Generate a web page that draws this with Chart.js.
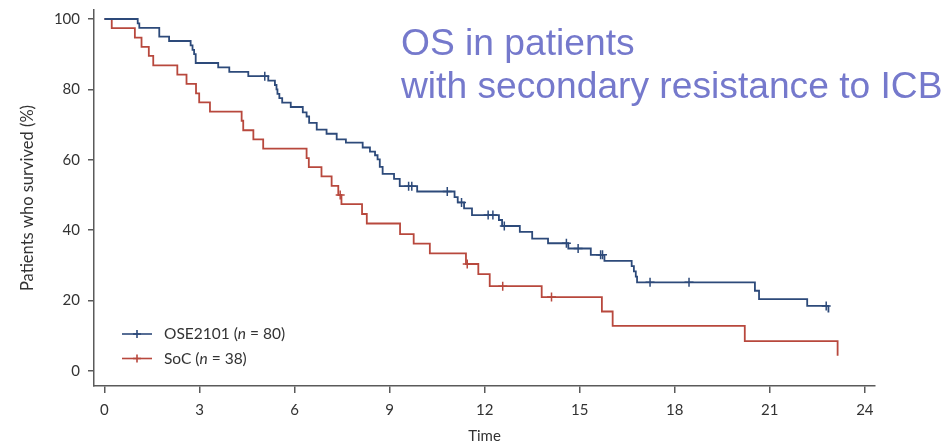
<!DOCTYPE html>
<html>
<head>
<meta charset="utf-8">
<script src="https://cdn.jsdelivr.net/npm/chart.js@4.4.1/dist/chart.umd.min.js"></script>
<style>
  html, body { margin: 0; padding: 0; background: #fff; }
  #wrap { width: 945px; height: 446px; }
</style>
</head>
<body>
<div id="wrap"><canvas id="osChart" width="945" height="446"></canvas></div>
<script>
// OSE2101 arm: time of each drop (months) and survival (%) after it
const oseTimes = [0, 1.05, 1.10, 1.73, 2.04, 2.72, 2.78, 2.83, 2.88, 3.59, 3.94, 4.54,
  5.17, 5.38, 5.43, 5.46, 5.52, 5.61, 5.88, 6.26, 6.38, 6.46, 6.70, 7.01, 7.33, 7.62,
  8.15, 8.38, 8.54, 8.62, 8.69, 8.78, 9.14, 9.32, 9.87, 11.05, 11.15, 11.35, 11.60,
  12.45, 12.55, 13.11, 13.50, 14.00, 14.64, 15.35, 15.78, 16.64, 16.71, 16.77, 16.81,
  20.53, 20.66, 22.18, 22.85];
const oseSurvival = [100, 98.75, 97.5, 95.0, 93.75, 92.5, 91.25, 90.0, 87.5, 86.25, 85.0, 83.75,
  82.5, 81.25, 80.0, 78.75, 77.5, 76.25, 75.0, 73.5, 72.3, 70.5, 68.6, 67.4, 65.8, 64.9,
  63.5, 62.3, 61.3, 60.1, 58.0, 56.0, 54.6, 52.5, 51.0, 49.4, 47.9, 46.2, 44.3,
  42.9, 41.2, 39.5, 37.6, 36.3, 34.8, 33.0, 31.3, 29.8, 28.3, 26.8, 25.2,
  22.8, 20.4, 18.5, 16.6];
const oseCensored = [5.06, 9.60, 9.70, 10.82, 11.27, 12.11, 12.26, 12.62, 14.58, 14.95,
  15.66, 15.72, 17.22, 18.45, 22.78];

// SoC arm
const socTimes = [0, 0.23, 0.96, 1.17, 1.40, 1.54, 2.30, 2.59, 2.89, 2.99, 3.33, 4.33, 4.38,
  4.70, 5.01, 6.38, 6.45, 6.85, 7.17, 7.38, 7.48, 8.13, 8.28, 9.33, 9.76, 10.27, 11.41,
  11.80, 12.16, 13.80, 15.70, 16.04, 20.21, 23.14];
const socSurvival = [100, 97.4, 94.7, 92.1, 89.5, 86.8, 84.2, 81.6, 78.9, 76.3, 73.7, 71.1, 68.4,
  65.8, 63.2, 60.5, 57.9, 55.3, 52.6, 50.0, 47.4, 44.6, 41.9, 38.9, 36.2, 33.4, 30.4,
  27.5, 24.1, 21.0, 16.9, 12.8, 8.5, 4.3];
const socCensored = [7.44, 11.45, 12.57, 14.11];

const armNames = ['OSE2101', 'SoC'];
const armSizes = [80, 38];
const xTicks = [0, 3, 6, 9, 12, 15, 18, 21, 24];
const yTicks = [0, 20, 40, 60, 80, 100];
const titleLines = ['OS in patients', 'with secondary resistance to ICB'];

const BLUE = '#2d4a7a';
const RED = '#b8483d';
const AXIS = '#5a5a5a';
const TEXT = '#333333';
const FONT = 'Lato';

const toPoints = (ts, vs) => ts.map((t, i) => ({ x: t, y: vs[i] }));

// survival level of the step curve at time t (for placing censor ticks)
const levelAt = (ts, vs, t) => {
  let v = vs[0];
  for (let i = 0; i < ts.length; i++) if (ts[i] <= t) v = vs[i];
  return v;
};
const censorPoints = (cs, ts, vs) => cs.map(t => ({ x: t, y: levelAt(ts, vs, t) }));

const drawCross = (ctx, x, y, r) => {
  ctx.beginPath();
  ctx.moveTo(x - r, y); ctx.lineTo(x + r, y);
  ctx.moveTo(x, y - r); ctx.lineTo(x, y + r);
  ctx.stroke();
};

// keep the plot box fixed: no extra room for the end labels
const noPadding = (scale) => {
  scale.paddingTop = 0;
  scale.paddingBottom = 0;
  scale.paddingLeft = 0;
  scale.paddingRight = 0;
};

// legend inside the plot, lower left
const kmLegend = {
  id: 'kmLegend',
  afterDraw(chart) {
    const ctx = chart.ctx;
    const colors = [BLUE, RED];
    ctx.save();
    armNames.forEach((name, i) => {
      const y = 334 + i * 24.5;
      ctx.strokeStyle = colors[i];
      ctx.lineWidth = 1.6;
      ctx.beginPath();
      ctx.moveTo(122, y); ctx.lineTo(152, y);
      ctx.stroke();
      drawCross(ctx, 137, y, 4);

      ctx.fillStyle = TEXT;
      ctx.textBaseline = 'middle';
      ctx.textAlign = 'left';
      let x = 164;
      const parts = [[name + ' (', 'normal'], ['n', 'italic'], [' = ' + armSizes[i] + ')', 'normal']];
      parts.forEach(([s, style]) => {
        ctx.font = `${style} 15.5px ${FONT}`;
        ctx.fillText(s, x, y);
        x += ctx.measureText(s).width;
      });
    });
    ctx.restore();
  }
};

// large heading at the top right
const heading = {
  id: 'heading',
  afterDraw(chart) {
    const ctx = chart.ctx;
    ctx.save();
    ctx.fillStyle = 'rgb(117,121,204)';
    ctx.font = '37.2px "Liberation Sans", Arial, sans-serif';
    ctx.textAlign = 'left';
    ctx.textBaseline = 'alphabetic';
    titleLines.forEach((line, i) => ctx.fillText(line, 401, 55 + i * 43));
    ctx.restore();
  }
};

new Chart(document.getElementById('osChart').getContext('2d'), {
  type: 'line',
  data: {
    datasets: [
      {
        label: armNames[0],
        data: toPoints(oseTimes, oseSurvival),
        stepped: 'before',
        borderColor: BLUE,
        borderWidth: 1.8,
        pointRadius: 0,
        fill: false,
      },
      {
        label: armNames[1],
        data: toPoints(socTimes, socSurvival),
        stepped: 'before',
        borderColor: RED,
        borderWidth: 1.8,
        pointRadius: 0,
        fill: false,
      },
      {
        type: 'scatter',
        data: censorPoints(oseCensored, oseTimes, oseSurvival),
        showLine: false,
        pointStyle: 'cross',
        pointRadius: 4.5,
        borderColor: BLUE,
        borderWidth: 1.5,
      },
      {
        type: 'scatter',
        data: censorPoints(socCensored, socTimes, socSurvival),
        showLine: false,
        pointStyle: 'cross',
        pointRadius: 4.5,
        borderColor: RED,
        borderWidth: 1.5,
      },
    ],
  },
  options: {
    responsive: false,
    animation: false,
    layout: { padding: { left: 0, right: 70, top: 10, bottom: 0 } },
    plugins: {
      legend: { display: false },
      tooltip: { enabled: false },
    },
    scales: {
      x: {
        type: 'linear',
        min: -0.33,
        max: 24.32,
        afterBuildTicks: (scale) => { scale.ticks = xTicks.map(v => ({ value: v })); },
        afterFit: (scale) => { scale.height = 60; noPadding(scale); },
        grid: { drawOnChartArea: false, drawTicks: true, tickLength: 7, color: AXIS, lineWidth: 1.5 },
        border: { color: AXIS, width: 1.5 },
        ticks: { color: TEXT, font: { family: FONT, size: 15 }, padding: 8, maxRotation: 0, autoSkip: false },
        title: { display: true, text: 'Time', color: TEXT, font: { family: FONT, size: 15 }, padding: { top: 0, bottom: 1 } },
      },
      y: {
        min: -4.26,
        max: 102.56,
        afterBuildTicks: (scale) => { scale.ticks = yTicks.map(v => ({ value: v })); },
        afterFit: (scale) => { scale.width = 94; noPadding(scale); },
        grid: { drawOnChartArea: false, drawTicks: true, tickLength: 6, color: AXIS, lineWidth: 1.5 },
        border: { color: AXIS, width: 1.5 },
        ticks: { color: TEXT, font: { family: FONT, size: 15 }, padding: 8, autoSkip: false },
        title: { display: true, text: 'Patients who survived (%)', color: TEXT, font: { family: FONT, size: 16.5 }, padding: { top: 18, bottom: 0 } },
      },
    },
  },
  plugins: [kmLegend, heading],
});
</script>
</body>
</html>
